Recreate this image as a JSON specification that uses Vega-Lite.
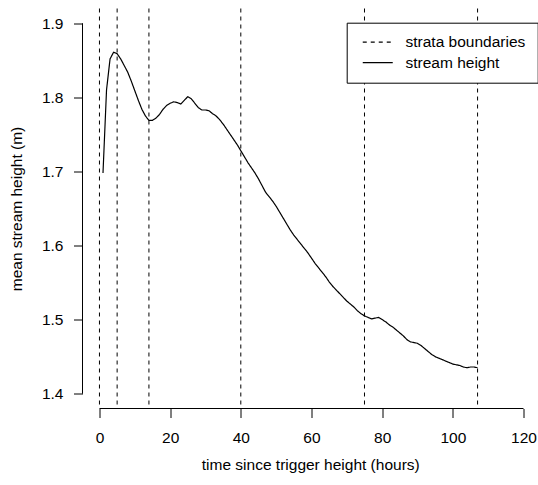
{
  "$schema": "https://vega.github.io/schema/vega-lite/v6.json",
  "width": 455.5,
  "height": 400,
  "autosize": "none",
  "padding": {"left": 82.5, "top": 8.5, "right": 0, "bottom": 76.5},
  "background": "white",
  "config": {
    "view": {"stroke": null},
    "font": "Liberation Sans",
    "axis": {
      "grid": false,
      "domain": false,
      "tickColor": "black",
      "tickSize": 9,
      "tickWidth": 1,
      "labelColor": "black",
      "labelFontSize": 15.5,
      "labelFont": "Liberation Sans",
      "titleFontSize": 15.5,
      "titleFont": "Liberation Sans",
      "titleFontWeight": "normal",
      "titleColor": "black"
    }
  },
  "datasets": {
    "stream": [
      {"t": 1, "h": 1.698}, {"t": 2, "h": 1.81}, {"t": 3, "h": 1.852}, {"t": 4, "h": 1.861},
      {"t": 5, "h": 1.859}, {"t": 6, "h": 1.852}, {"t": 7, "h": 1.843}, {"t": 8, "h": 1.834},
      {"t": 9, "h": 1.822}, {"t": 10, "h": 1.809}, {"t": 11, "h": 1.796}, {"t": 12, "h": 1.784},
      {"t": 13, "h": 1.775}, {"t": 14, "h": 1.769}, {"t": 15, "h": 1.769}, {"t": 16, "h": 1.772},
      {"t": 17, "h": 1.777}, {"t": 18, "h": 1.784}, {"t": 19, "h": 1.789}, {"t": 20, "h": 1.792},
      {"t": 21, "h": 1.794}, {"t": 22, "h": 1.793}, {"t": 23, "h": 1.791}, {"t": 24, "h": 1.796},
      {"t": 25, "h": 1.801}, {"t": 26, "h": 1.798}, {"t": 27, "h": 1.792}, {"t": 28, "h": 1.786},
      {"t": 29, "h": 1.783}, {"t": 30, "h": 1.783}, {"t": 31, "h": 1.782}, {"t": 32, "h": 1.778},
      {"t": 33, "h": 1.775}, {"t": 34, "h": 1.77}, {"t": 35, "h": 1.764}, {"t": 36, "h": 1.757},
      {"t": 37, "h": 1.75}, {"t": 38, "h": 1.743}, {"t": 39, "h": 1.736}, {"t": 40, "h": 1.728},
      {"t": 41, "h": 1.72}, {"t": 42, "h": 1.712}, {"t": 43, "h": 1.705}, {"t": 44, "h": 1.698},
      {"t": 45, "h": 1.69}, {"t": 46, "h": 1.681}, {"t": 47, "h": 1.672}, {"t": 48, "h": 1.666},
      {"t": 49, "h": 1.66}, {"t": 50, "h": 1.653}, {"t": 51, "h": 1.645}, {"t": 52, "h": 1.637},
      {"t": 53, "h": 1.629}, {"t": 54, "h": 1.621}, {"t": 55, "h": 1.614}, {"t": 56, "h": 1.608},
      {"t": 57, "h": 1.602}, {"t": 58, "h": 1.596}, {"t": 59, "h": 1.59}, {"t": 60, "h": 1.583},
      {"t": 61, "h": 1.576}, {"t": 62, "h": 1.57}, {"t": 63, "h": 1.564}, {"t": 64, "h": 1.558},
      {"t": 65, "h": 1.551}, {"t": 66, "h": 1.545}, {"t": 67, "h": 1.54}, {"t": 68, "h": 1.535},
      {"t": 69, "h": 1.53}, {"t": 70, "h": 1.525}, {"t": 71, "h": 1.521}, {"t": 72, "h": 1.517},
      {"t": 73, "h": 1.512}, {"t": 74, "h": 1.508}, {"t": 75, "h": 1.505}, {"t": 76, "h": 1.503},
      {"t": 77, "h": 1.501}, {"t": 78, "h": 1.502}, {"t": 79, "h": 1.503}, {"t": 80, "h": 1.5},
      {"t": 81, "h": 1.497}, {"t": 82, "h": 1.493}, {"t": 83, "h": 1.49}, {"t": 84, "h": 1.486},
      {"t": 85, "h": 1.482}, {"t": 86, "h": 1.478}, {"t": 87, "h": 1.473}, {"t": 88, "h": 1.47},
      {"t": 89, "h": 1.469}, {"t": 90, "h": 1.468}, {"t": 91, "h": 1.465}, {"t": 92, "h": 1.461},
      {"t": 93, "h": 1.457}, {"t": 94, "h": 1.453}, {"t": 95, "h": 1.45}, {"t": 96, "h": 1.448},
      {"t": 97, "h": 1.446}, {"t": 98, "h": 1.444}, {"t": 99, "h": 1.442}, {"t": 100, "h": 1.44},
      {"t": 101, "h": 1.439}, {"t": 102, "h": 1.438}, {"t": 103, "h": 1.436}, {"t": 104, "h": 1.435},
      {"t": 105, "h": 1.436}, {"t": 106, "h": 1.436}, {"t": 107, "h": 1.435}
    ],
    "strata": [{"t": 0}, {"t": 5}, {"t": 14}, {"t": 40}, {"t": 75}, {"t": 107}],
    "xaxisline": [{"t0": 0, "t1": 120, "h": 1.38}],
    "yaxisline": [{"t": -4.8, "h0": 1.4, "h1": 1.9}]
  },
  "layer": [
    {
      "data": {"name": "strata"},
      "mark": {"type": "rule", "color": "black", "strokeWidth": 1},
      "encoding": {
        "x": {
          "field": "t", "type": "quantitative",
          "scale": {"domain": [-4.8, 124.1], "nice": false, "zero": false},
          "axis": {"values": [0, 20, 40, 60, 80, 100, 120], "labelPadding": 13, "titlePadding": 11, "title": "time since trigger height (hours)"}
        },
        "strokeDash": {
          "datum": "strata boundaries", "type": "nominal",
          "scale": {"domain": ["strata boundaries", "stream height"], "range": [[4, 4], [1, 0]]},
          "legend": {
            "title": null,
            "orient": "none",
            "legendX": 264.2,
            "legendY": 14.2,
            "strokeColor": "black",
            "fillColor": "white",
            "padding": 11.6,
            "cornerRadius": 0,
            "labelFont": "Liberation Sans",
            "labelFontSize": 15.5,
            "labelColor": "black",
            "labelLimit": 400,
            "symbolType": "M-3,0L3,0",
            "symbolSize": 100,
            "symbolStrokeColor": "black",
            "symbolStrokeWidth": 1.2,
            "symbolOffset": 11.7,
            "labelOffset": 20,
            "rowPadding": 3.5
          }
        }
      }
    },
    {
      "data": {"name": "stream"},
      "mark": {"type": "line", "color": "black", "strokeWidth": 1.2},
      "encoding": {
        "x": {
          "field": "t", "type": "quantitative",
          "scale": {"domain": [-4.8, 124.1], "nice": false, "zero": false},
          "axis": {"values": [0, 20, 40, 60, 80, 100, 120], "labelPadding": 13, "titlePadding": 11, "title": "time since trigger height (hours)"}
        },
        "y": {
          "field": "h", "type": "quantitative",
          "scale": {"domain": [1.38, 1.92], "nice": false, "zero": false},
          "axis": {"values": [1.4, 1.5, 1.6, 1.7, 1.8, 1.9], "format": ".1f", "labelPadding": 10.5, "titlePadding": 17, "title": "mean stream height (m)"}
        },
        "strokeDash": {"datum": "stream height", "type": "nominal"}
      }
    },
    {
      "data": {"name": "xaxisline"},
      "mark": {"type": "rule", "color": "black", "strokeWidth": 1},
      "encoding": {
        "x": {"field": "t0", "type": "quantitative", "title": "time since trigger height (hours)"},
        "x2": {"field": "t1"},
        "y": {"field": "h", "type": "quantitative", "title": "mean stream height (m)"}
      }
    },
    {
      "data": {"name": "yaxisline"},
      "mark": {"type": "rule", "color": "black", "strokeWidth": 1},
      "encoding": {
        "x": {"field": "t", "type": "quantitative", "title": "time since trigger height (hours)"},
        "y": {"field": "h0", "type": "quantitative", "title": "mean stream height (m)"},
        "y2": {"field": "h1"}
      }
    }
  ]
}
